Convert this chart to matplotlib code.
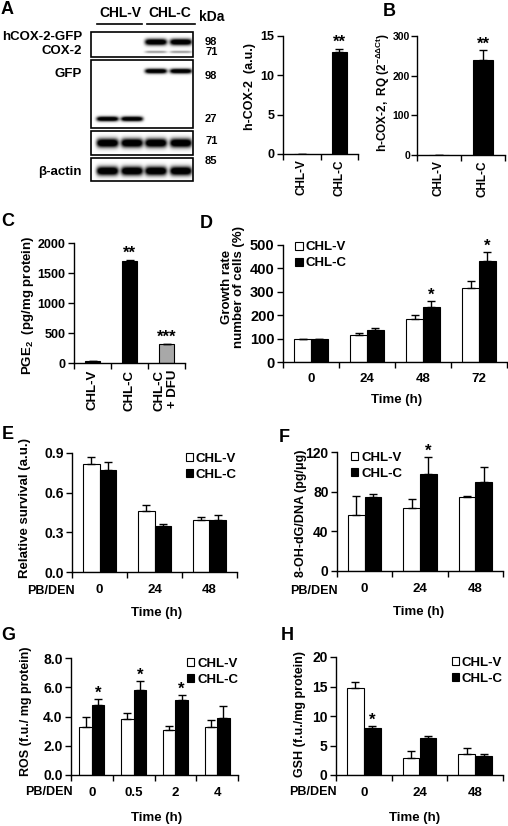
import numpy as np
import matplotlib
matplotlib.use("Agg")
import matplotlib.pyplot as plt
from matplotlib.patches import Rectangle

plt.rcParams['font.family'] = ['Liberation Sans', 'DejaVu Sans']
plt.rcParams['font.weight'] = 'bold'
plt.rcParams['mathtext.fontset'] = 'custom'
plt.rcParams['mathtext.rm'] = 'Liberation Sans:bold'
plt.rcParams['mathtext.bf'] = 'Liberation Sans:bold'
plt.rcParams['mathtext.it'] = 'Liberation Sans:bold'
plt.rcParams['axes.linewidth'] = 1.0

# ---- data ----
# A: blot labels + densitometry
blotGroups = ["CHL-V", "CHL-C"]
blotRows = ["hCOX-2-GFP", "COX-2", "GFP", "β-actin"]
kdaMarks = ["98", "71", "98", "27", "71", "85"]
hcoxCats = ["CHL-V", "CHL-C"]
hcoxVals = [0.0, 13.0]
hcoxErr = [0.0, 0.4]
hcoxSig = ["", "**"]

# B: qPCR
rqCats = ["CHL-V", "CHL-C"]
rqVals = [1.0, 240.0]
rqErr = [0.0, 25.0]
rqSig = ["", "**"]

# C: PGE2
pgeCats = ["CHL-V", "CHL-C", "CHL-C\n+ DFU"]
pgeVals = [30, 1700, 310]
pgeErr = [10, 20, 15]
pgeSig = ["", "**", "***"]

# D: growth rate
growthTimes = ["0", "24", "48", "72"]
growthV = [100, 117, 185, 315]
growthVErr = [0, 8, 17, 30]
growthC = [100, 138, 237, 430]
growthCErr = [0, 8, 22, 40]
growthSig = ["", "", "*", "*"]

# E: relative survival
survTimes = ["0", "24", "48"]
survV = [0.82, 0.46, 0.39]
survVErr = [0.05, 0.05, 0.025]
survC = [0.77, 0.35, 0.39]
survCErr = [0.06, 0.01, 0.04]
survSig = ["", "", ""]

# F: 8-OH-dG
ohdgTimes = ["0", "24", "48"]
ohdgV = [56, 64, 75]
ohdgVErr = [20, 9, 1]
ohdgC = [75, 98, 90]
ohdgCErr = [3, 17, 15]
ohdgSig = ["", "*", ""]

# G: ROS
rosTimes = ["0", "0.5", "2", "4"]
rosV = [3.25, 3.8, 3.1, 3.25]
rosVErr = [0.7, 0.45, 0.25, 0.5]
rosC = [4.8, 5.8, 5.1, 3.9]
rosCErr = [0.4, 0.6, 0.35, 0.8]
rosSig = ["*", "*", "*", ""]

# H: GSH
gshTimes = ["0", "24", "48"]
gshV = [14.7, 2.8, 3.5]
gshVErr = [1.0, 1.3, 1.1]
gshC = [8.0, 6.3, 3.3]
gshCErr = [0.3, 0.3, 0.3]
gshSig = ["*", "", ""]

W, H = 508, 826
fig = plt.figure(figsize=(W / 100, H / 100), dpi=100)


def axAt(x0, y0, x1, y1):
    return fig.add_axes([x0 / W, 1 - y1 / H, (x1 - x0) / W, (y1 - y0) / H])


def ftext(x, y, s, **kw):
    kw.setdefault('fontweight', 'bold')
    fig.text(x / W, 1 - y / H, s, **kw)


def styleAx(ax, cats, ylim, yticks, fmt, rot=False, pad=8, ysize=10, xsize=9.5, ypad=2):
    n = len(cats)
    for s in ['top', 'right']:
        ax.spines[s].set_visible(False)
    ax.set_xlim(-0.5, n - 0.5)
    ax.set_ylim(*ylim)
    ax.set_yticks(yticks, labels=[fmt.format(t) for t in yticks])
    ax.set_xticks(np.arange(n + 1) - 0.5, labels=[""] * (n + 1))
    if rot:
        ax.set_xticks(np.arange(n), labels=cats, minor=True, rotation=90,
                      va='top', ha='center', multialignment='right')
    else:
        ax.set_xticks(np.arange(n), labels=cats, minor=True)
    ax.tick_params(axis='x', which='major', length=4, width=1, direction='out')
    ax.tick_params(axis='x', which='minor', length=0, pad=pad, labelsize=xsize)
    ax.tick_params(axis='y', length=4, width=1, direction='out', labelsize=ysize, pad=ypad)


def stars(ax, xs, tops, sigs):
    for x, t, s in zip(xs, tops, sigs):
        if s:
            ax.annotate(s, (x, t), xytext=(0, -1), textcoords='offset points',
                        ha='center', va='bottom', fontsize=12, fontweight='bold')


def singleBars(ax, cats, vals, errs, sigs, width, colors):
    x = np.arange(len(cats))
    ax.bar(x, vals, width, color=colors, edgecolor='black', linewidth=0.8, zorder=2)
    ax.errorbar(x, vals, yerr=[np.zeros(len(vals)), errs], fmt='none', ecolor='black',
                elinewidth=1, capsize=3, capthick=1, zorder=3)
    stars(ax, x, np.array(vals) + np.array(errs), sigs)


def groupedBars(ax, cats, v, ve, c, ce, sigs):
    x = np.arange(len(cats))
    w = 0.3
    bv = ax.bar(x - w / 2, v, w, color='white', edgecolor='black', linewidth=0.8,
                label='CHL-V', zorder=2)
    bc = ax.bar(x + w / 2, c, w, color='black', edgecolor='black', linewidth=0.8,
                label='CHL-C', zorder=2)
    ax.errorbar(x - w / 2, v, yerr=[np.zeros(len(v)), ve], fmt='none', ecolor='black',
                elinewidth=1, capsize=3, capthick=1, zorder=3)
    ax.errorbar(x + w / 2, c, yerr=[np.zeros(len(c)), ce], fmt='none', ecolor='black',
                elinewidth=1, capsize=3, capthick=1, zorder=3)
    stars(ax, x + w / 2, np.array(c) + np.array(ce), sigs)
    return bv, bc


def addLegend(ax, handles, loc, anchor):
    ax.legend(handles, [h.get_label() for h in handles], loc=loc, bbox_to_anchor=anchor,
              frameon=False, fontsize=9.5, handlelength=0.55, handleheight=0.55,
              handletextpad=0.2, labelspacing=0.3, borderaxespad=0, borderpad=0)


# ---- A: western blot drawing ----
axb = fig.add_axes([0, 0, 1, 1], zorder=0)
axb.set_xlim(0, W)
axb.set_ylim(H, 0)
axb.axis('off')

lanesX = [107.5, 132, 156, 181]
laneHalf = 11
boxes = [(91, 32, 193, 57), (91, 60, 193, 128), (91, 131, 193, 155), (91, 158, 193, 181)]
# box, y centre, half thickness, darkness, lanes
bands = [(0, 42, 3.2, 1.0, [2, 3]), (0, 52, 1.2, 0.3, [2, 3]),
         (1, 71, 2.4, 1.0, [2, 3]), (1, 119, 2.4, 1.0, [0, 1]),
         (2, 143, 4.5, 1.0, [0, 1, 2, 3]), (3, 171, 4.5, 1.0, [0, 1, 2, 3])]
for i, (x0, y0, x1, y1) in enumerate(boxes):
    xs = np.linspace(x0, x1, int((x1 - x0) * 4))
    ys = np.linspace(y0, y1, int((y1 - y0) * 4))
    XX, YY = np.meshgrid(xs, ys)
    dark = np.zeros_like(XX)
    for b, yc, hh, amp, lanes in bands:
        if b != i:
            continue
        for l in lanes:
            px = np.exp(-np.abs((XX - lanesX[l]) / laneHalf) ** 6)
            py = np.exp(-((YY - yc) / hh) ** 2)
            dark += amp * px * py
    img = 1 - np.clip(dark * 1.4, 0, 1)
    axb.imshow(img, cmap='gray', vmin=0, vmax=1, extent=(x0, x1, y1, y0),
               origin='upper', interpolation='bilinear', aspect='auto')
    axb.add_patch(Rectangle((x0, y0), x1 - x0, y1 - y0, fill=False, lw=1.2, ec='black'))

axb.plot([97, 142], [24, 24], color='black', lw=1.2)
axb.plot([147, 195], [24, 24], color='black', lw=1.2)
ftext(120, 13, blotGroups[0], fontsize=10, ha='center', va='center')
ftext(170, 13, blotGroups[1], fontsize=10, ha='center', va='center')
ftext(212, 17, "kDa", fontsize=10, ha='center', va='center')
for s, y in zip(blotRows, [37, 51, 74, 172]):
    ftext(82, y, s, fontsize=9.5, ha='right', va='center')
for s, y in zip(kdaMarks, [42, 52, 76, 119, 141, 161]):
    ftext(205, y, s, fontsize=8, ha='left', va='center')

# A: densitometry
ax = axAt(283, 36, 358, 154)
singleBars(ax, hcoxCats, hcoxVals, hcoxErr, hcoxSig, 0.4, 'black')
styleAx(ax, hcoxCats, (0, 15), [0, 5, 10, 15], "{:g}", rot=True, pad=4, ysize=9, xsize=8.5)
ftext(250, 87, "h-COX-2  (a.u.)", fontsize=9, rotation=90, ha='center', va='center')

# B
ax = axAt(417, 36, 505, 155)
singleBars(ax, rqCats, rqVals, rqErr, rqSig, 0.45, 'black')
styleAx(ax, rqCats, (0, 300), [0, 100, 200, 300], "{:g}", rot=True, pad=4,
        ysize=7.5, xsize=8.5, ypad=1)
ftext(383, 92, r"h-COX-2,  RQ (2$^{-\Delta\Delta Ct}$)", fontsize=8.5, rotation=90,
      ha='center', va='center')

# C
ax = axAt(74, 243, 185, 363)
singleBars(ax, pgeCats, pgeVals, pgeErr, pgeSig, 0.4, ['black', 'black', '#a8a8a8'])
styleAx(ax, pgeCats, (0, 2000), [0, 500, 1000, 1500, 2000], "{:g}", rot=True, pad=5,
        ysize=9)
ftext(28, 305, r"PGE$_2$  (pg/mg protein)", fontsize=9.5, rotation=90, ha='center', va='center')

# D
ax = axAt(283, 245, 507, 362)
bv, bc = groupedBars(ax, growthTimes, growthV, growthVErr, growthC, growthCErr, growthSig)
styleAx(ax, growthTimes, (0, 500), [0, 100, 200, 300, 400, 500], "{:g}", ysize=10.5)
addLegend(ax, [bv, bc], 'upper left', (0.055, 1.03))
ftext(233, 287, "Growth rate\nnumber of cells (%)", fontsize=9.5, rotation=90,
      ha='center', va='center', multialignment='center', linespacing=1.1)
ftext(397, 400, "Time (h)", fontsize=9.5, ha='center', va='center')

# E
ax = axAt(72, 453, 237, 572)
bv, bc = groupedBars(ax, survTimes, survV, survVErr, survC, survCErr, survSig)
styleAx(ax, survTimes, (0, 0.9), [0, 0.3, 0.6, 0.9], "{:.1f}", pad=8.5)
addLegend(ax, [bv, bc], 'upper right', (1.0, 1.0))
ftext(25, 508, "Relative survival (a.u.)", fontsize=9.5, rotation=90, ha='center', va='center')
ftext(75, 591, "PB/DEN", fontsize=9, ha='right', va='center')
ftext(157, 613, "Time (h)", fontsize=9.5, ha='center', va='center')

# F
ax = axAt(337, 452, 503, 571)
bv, bc = groupedBars(ax, ohdgTimes, ohdgV, ohdgVErr, ohdgC, ohdgCErr, ohdgSig)
styleAx(ax, ohdgTimes, (0, 120), [0, 40, 80, 120], "{:g}", pad=8.5)
addLegend(ax, [bv, bc], 'upper left', (0.085, 1.0))
ftext(301, 513, "8-OH-dG/DNA (pg/μg)", fontsize=9, rotation=90, ha='center', va='center')
ftext(338, 591, "PB/DEN", fontsize=9, ha='right', va='center')
ftext(419, 612, "Time (h)", fontsize=9.5, ha='center', va='center')

# G
ax = axAt(71, 658, 238, 775)
bv, bc = groupedBars(ax, rosTimes, rosV, rosVErr, rosC, rosCErr, rosSig)
styleAx(ax, rosTimes, (0, 8), [0, 2, 4, 6, 8], "{:.1f}", pad=9)
addLegend(ax, [bv, bc], 'upper right', (1.0, 1.0))
ftext(26, 711, "ROS (f.u./ mg protein)", fontsize=9, rotation=90, ha='center', va='center')
ftext(73, 792, "PB/DEN", fontsize=9, ha='right', va='center')
ftext(157, 818, "Time (h)", fontsize=9.5, ha='center', va='center')

# H
ax = axAt(336, 657, 503, 775)
bv, bc = groupedBars(ax, gshTimes, gshV, gshVErr, gshC, gshCErr, gshSig)
styleAx(ax, gshTimes, (0, 20), [0, 5, 10, 15, 20], "{:g}", pad=9)
addLegend(ax, [bv, bc], 'upper right', (1.0, 1.0))
ftext(300, 714, "GSH (f.u./mg protein)", fontsize=9, rotation=90, ha='center', va='center')
ftext(337, 792, "PB/DEN", fontsize=9, ha='right', va='center')
ftext(415, 818, "Time (h)", fontsize=9.5, ha='center', va='center')

# panel letters
for s, x, y in [("A", 7, 10), ("B", 389, 12), ("C", 8, 222), ("D", 206, 223),
                ("E", 8, 435), ("F", 284, 437), ("G", 8, 636), ("H", 287, 635)]:
    ftext(x, y, s, fontsize=13, ha='center', va='center')

fig.savefig("out.png", dpi=100)
